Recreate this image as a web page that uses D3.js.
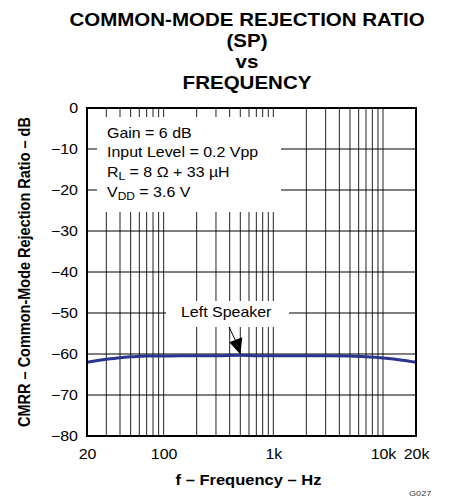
<!DOCTYPE html>
<html>
<head>
<meta charset="utf-8">
<script src="https://cdn.jsdelivr.net/npm/d3@7"></script>
<style>
  body { margin: 0; background: #fff; }
  text { font-family: "Liberation Sans", Arial, sans-serif; }
</style>
</head>
<body>
<script>
// chart data
var freqs = [20, 25, 30, 40, 50, 70, 100, 200, 300, 500, 700, 1000, 2000, 3000, 5000, 7000, 10000, 15000, 20000];
var cmrr = [-62.0, -61.6, -61.3, -60.9, -60.7, -60.5, -60.5, -60.4, -60.4, -60.3, -60.4, -60.4, -60.4, -60.4, -60.5, -60.7, -61.0, -61.5, -62.0];
var xTicks = [20, 100, 1000, 10000, 20000];
var xTickLabels = ["20", "100", "1k", "10k", "20k"];
var yTicks = [0, -10, -20, -30, -40, -50, -60, -70, -80];
var titleLines = ["COMMON-MODE REJECTION RATIO", "(SP)", "vs", "FREQUENCY"];

var margin = { top: 108, left: 87 };
var width = 329, height = 328;
var sx = 1.14; // text in the reference is a bit wider than tall

var svg = d3.select('body').append('svg')
  .attr('width', 450)
  .attr('height', 497);

// places a horizontally stretched text at (x, y)
function put(sel, x, y) {
  return sel.attr('transform', 'translate(' + x + ',' + y + ') scale(' + sx + ',1)');
}

// title
svg.append('g').selectAll('text')
  .data(titleLines)
  .enter().append('text')
  .attr('transform', function(d, i) { return 'translate(247,' + (26 + i * 21) + ') scale(' + sx + ',1)'; })
  .attr('text-anchor', 'middle')
  .attr('font-weight', 'bold')
  .attr('font-size', 18)
  .text(function(d) { return d; });

var g = svg.append('g')
  .attr('transform', 'translate(' + margin.left + ',' + margin.top + ')');

var xScale = d3.scaleLog().domain([20, 20000]).range([0, width]);
var yScale = d3.scaleLinear().domain([-80, 0]).range([height, 0]);

// vertical grid: every 1..9 multiple inside the range
var gridFreqs = [];
[10, 100, 1000, 10000].forEach(function(dec) {
  for (var k = 1; k <= 9; k++) {
    var f = dec * k;
    if (f > 20 && f < 20000) gridFreqs.push(f);
  }
});

g.append('g').selectAll('line')
  .data(gridFreqs)
  .enter().append('line')
  .attr('x1', function(d) { return xScale(d); })
  .attr('x2', function(d) { return xScale(d); })
  .attr('y1', 0)
  .attr('y2', height)
  .attr('stroke', '#222')
  .attr('stroke-width', 1);

// horizontal grid
g.append('g').selectAll('line')
  .data(yTicks.slice(1, -1))
  .enter().append('line')
  .attr('x1', 0)
  .attr('x2', width)
  .attr('y1', function(d) { return yScale(d); })
  .attr('y2', function(d) { return yScale(d); })
  .attr('stroke', '#000')
  .attr('stroke-width', 1);

// white boxes behind annotations
g.append('rect')
  .attr('x', 10).attr('y', 9)
  .attr('width', 184).attr('height', 95)
  .attr('fill', '#fff');
g.append('rect')
  .attr('x', 79).attr('y', 193)
  .attr('width', 123).attr('height', 26)
  .attr('fill', '#fff');

// data line
g.append('path')
  .datum(freqs)
  .attr('d', d3.line()
    .x(function(d) { return xScale(d); })
    .y(function(d, i) { return yScale(cmrr[i]); })
    .curve(d3.curveMonotoneX))
  .attr('fill', 'none')
  .attr('stroke', '#2b3490')
  .attr('stroke-width', 3);

// frame
g.append('rect')
  .attr('width', width)
  .attr('height', height)
  .attr('fill', 'none')
  .attr('stroke', '#000')
  .attr('stroke-width', 2);

// axes
var yAxis = g.append('g')
  .call(d3.axisLeft(yScale).tickValues(yTicks).tickSize(0).tickPadding(9)
    .tickFormat(function(d) { return d < 0 ? '\u2212' + Math.abs(d) : d; }));
yAxis.select('.domain').remove();
yAxis.selectAll('text')
  .attr('font-size', 14).attr('fill', '#000')
  .style('font-family', '"Liberation Sans", Arial, sans-serif')
  .each(function() {
    var t = d3.select(this);
    put(t, -9, 0).attr('x', 0);
  });

var xAxis = g.append('g')
  .attr('transform', 'translate(0,' + height + ')')
  .call(d3.axisBottom(xScale).tickValues(xTicks).tickSize(0).tickPadding(13)
    .tickFormat(function(d, i) { return xTickLabels[i]; }));
xAxis.select('.domain').remove();
xAxis.selectAll('text')
  .attr('font-size', 14).attr('fill', '#000')
  .style('font-family', '"Liberation Sans", Arial, sans-serif')
  .each(function() {
    var t = d3.select(this);
    put(t, 0, 13).attr('y', 0);
  });

// axis titles
svg.append('text')
  .attr('transform', 'translate(30,' + (margin.top + height / 2) + ') rotate(-90) scale(1,' + sx + ')')
  .attr('text-anchor', 'middle')
  .attr('font-weight', 'bold')
  .attr('font-size', 14.5)
  .text('CMRR \u2013 Common-Mode Rejection Ratio \u2013 dB');

put(svg.append('text'), margin.left + width / 2 - 3, 485)
  .attr('text-anchor', 'middle')
  .attr('font-weight', 'bold')
  .attr('font-size', 14.5)
  .text('f \u2013 Frequency \u2013 Hz');

put(svg.append('text'), 409, 496)
  .attr('font-size', 8)
  .attr('fill', '#333')
  .text('G027');

// conditions text
var cond = g.append('g').attr('font-size', 14);
put(cond.append('text'), 20, 29.7).text('Gain = 6 dB');
put(cond.append('text'), 20, 49.3).text('Input Level = 0.2 Vpp');
var rl = put(cond.append('text'), 20, 69.3);
rl.append('tspan').text('R');
rl.append('tspan').attr('font-size', 10.5).attr('dy', 3).text('L');
rl.append('tspan').attr('dy', -3).text(' = 8 \u03a9 + 33 \u00b5H');
var vdd = put(cond.append('text'), 20, 88.9);
vdd.append('tspan').text('V');
vdd.append('tspan').attr('font-size', 10.5).attr('dy', 3).text('DD');
vdd.append('tspan').attr('dy', -3).text(' = 3.6 V');

// Left Speaker label and arrow
put(g.append('text'), 94, 209)
  .attr('font-size', 14)
  .text('Left Speaker');

var tipX = xScale(500), tipY = yScale(-60.3) - 1;
g.append('line')
  .attr('x1', 142).attr('y1', 219)
  .attr('x2', tipX - 3).attr('y2', tipY - 10)
  .attr('stroke', '#000').attr('stroke-width', 1);
g.append('path')
  .attr('d', 'M' + tipX + ',' + tipY + 'L' + (tipX - 11) + ',' + (tipY - 12) + 'L' + (tipX + 2) + ',' + (tipY - 17) + 'Z')
  .attr('fill', '#000');
</script>
</body>
</html>
